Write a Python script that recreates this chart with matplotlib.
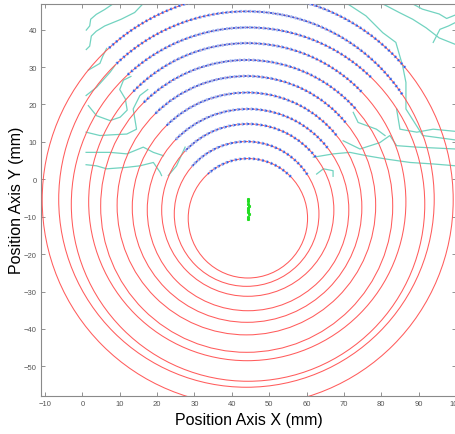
import matplotlib
matplotlib.use("Agg")
import matplotlib.pyplot as plt
from matplotlib.patches import Circle, Arc

plt.rcParams['font.family'] = ['Liberation Sans', 'DejaVu Sans']

# fitted circles: centre x, centre y, radius (mm)
circle_cx = [44.30, 43.96, 44.27, 44.34, 44.08, 43.90, 43.98, 44.14, 44.34, 43.92, 44.25]
circle_cy = [-10.42, -9.26, -8.24, -8.17, -7.52, -7.00, -7.18, -6.05, -6.70, -5.35, -5.50]
circle_r = [15.97, 19.36, 23.04, 26.97, 30.72, 34.60, 39.08, 42.45, 47.30, 50.25, 55.00]

# angular extent (deg) of the measured edge points on each circle
dots_from = [44, 33, 38, 38, 39, 40, 42, 44, 46, 34, 40]
dots_to = [132, 139, 137, 136, 135, 135, 135, 136, 133, 134, 133]

# green points near the centre
green_x = [44.2, 44.4, 44.3, 44.5, 44.3, 44.4, 44.2, 44.5, 44.4, 44.3]
green_y = [-5.3, -5.9, -6.5, -7.1, -7.6, -8.2, -8.8, -9.4, -10.0, -10.6]

# contour lines (x list, y list)
contours = [
    ([1.05, 1.96, 2.23, 3.73, 5.98, 8.2], [39.9, 41.0, 42.8, 44.1, 45.4, 46.9]),
    ([1.05, 1.96, 2.4, 3.73, 5.98, 10.4, 14.0, 16.2], [34.7, 35.6, 38.3, 39.6, 41.0, 42.8, 44.6, 46.9]),
    ([1.6, 3.0, 4.7, 5.5, 6.5], [29.2, 30.0, 31.0, 33.0, 35.0]),
    ([1.0, 3.8, 7.4, 8.7], [22.4, 24.6, 28.6, 30.4]),
    ([1.6, 3.8, 7.4, 10.1, 12.0, 11.5, 10.0, 11.0, 13.0], [19.7, 17.0, 15.7, 16.6, 18.5, 21.5, 24.0, 26.5, 27.5]),
    ([1.0, 4.7, 8.0, 11.9, 14.5, 13.6, 15.4, 17.5], [12.6, 11.7, 11.9, 12.1, 13.4, 18.8, 22.4, 24.0]),
    ([1.0, 7.4, 11.9, 16.3, 19.0, 21.7], [7.2, 7.2, 6.8, 8.6, 7.2, 6.3]),
    ([1.0, 3.8, 6.5, 11.9, 15.4, 19.0, 20.8, 21.2], [3.9, 3.6, 2.8, 3.2, 3.6, 4.5, 1.9, 1.0]),
    ([23.0, 25.2, 27.5], [1.0, 3.6, 8.6]),
    ([71.0, 75.9, 80.4, 83.9, 85.7, 86.6, 86.6, 91.1, 100.0], [46.9, 43.7, 39.2, 36.6, 30.4, 25.9, 18.8, 11.7, 10.5]),
    ([80.4, 84.8, 88.4, 92.0, 95.5, 100.0], [46.9, 44.6, 42.8, 40.5, 37.8, 36.0]),
    ([88.4, 91.0, 95.5, 97.5, 100.0], [46.9, 45.5, 44.2, 43.0, 44.0]),
    ([61.8, 67.2, 71.6, 76.1, 81.4, 87.7, 93.9, 100.0], [5.9, 6.8, 7.2, 6.3, 5.4, 4.5, 4.1, 3.6]),
    ([69.8, 74.3, 79.6, 82.3, 84.1, 89.5, 100.0], [10.3, 8.1, 9.8, 11.7, 9.0, 8.6, 8.1]),
    ([72.5, 73.8, 78.7, 81.0], [17.9, 15.2, 13.4, 11.7]),
    ([84.1, 85.0, 89.5, 93.9, 100.0], [18.8, 13.4, 12.6, 13.4, 12.8]),
    ([62.7, 64.5, 67.1, 67.1], [1.4, 2.8, 2.3, 0.8]),
    ([93.9, 95.7, 98.0, 100.0], [36.6, 40.1, 41.0, 42.0]),
]

fig = plt.figure(figsize=(4.56, 4.35), dpi=100)
ax = fig.add_axes([41 / 456, 1 - 396.7 / 435, 415 / 456, 392 / 435])

for xs, ys in contours:
    ax.plot(xs, ys, color='#72d3c0', lw=0.9, zorder=2)

for cx, cy, r in zip(circle_cx, circle_cy, circle_r):
    ax.add_patch(Circle((cx, cy), r, fill=False, edgecolor='#ff5c5c', lw=0.75, zorder=3))

for cx, cy, r, a0, a1 in zip(circle_cx, circle_cy, circle_r, dots_from, dots_to):
    ax.add_patch(Arc((cx, cy), 2 * r, 2 * r, theta1=a0, theta2=a1, edgecolor='#9fb8f5',
                     lw=2.2, linestyle=(0, (0.6, 0.9)), zorder=4))
    ax.add_patch(Arc((cx, cy), 2 * r, 2 * r, theta1=a0, theta2=a1, edgecolor='#2b5ce6',
                     lw=1.3, linestyle=(0, (1.0, 1.5)), zorder=5))

ax.plot(green_x, green_y, ls='none', marker='s', ms=1.2, color='#22dd22', zorder=6)

ax.set_xlim(-11.07, 100)
ax.set_ylim(-57.86, 46.95)
ax.set_xticks(range(-10, 101, 10))
ax.set_yticks(range(-50, 41, 10))
ax.tick_params(direction='in', top=True, right=True, length=3, width=0.6,
               colors='#808080', labelcolor='#555555', labelsize=5.5, pad=3)
for s in ax.spines.values():
    s.set_color('#8a8a8a')
    s.set_linewidth(0.8)

ax.set_xlabel('Position Axis X (mm)', fontsize=11.5, labelpad=4)
ax.set_ylabel('Position Axis Y (mm)', fontsize=11.5, labelpad=0)

fig.savefig('out.png', dpi=100)
